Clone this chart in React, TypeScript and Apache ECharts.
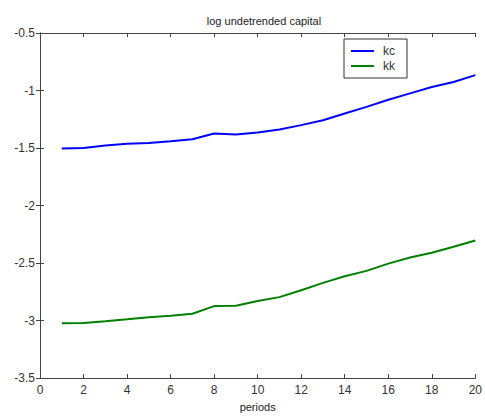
import React, { useEffect, useRef } from "react";
import * as echarts from "echarts";

const periods = [1, 2, 3, 4, 5, 6, 7, 8, 9, 10, 11, 12, 13, 14, 15, 16, 17, 18, 19, 20];
const kc = [-1.503, -1.500, -1.478, -1.463, -1.456, -1.440, -1.423, -1.373, -1.382, -1.365, -1.338, -1.301, -1.258, -1.200, -1.142, -1.080, -1.025, -0.970, -0.926, -0.866];
const kk = [-3.024, -3.022, -3.006, -2.989, -2.970, -2.957, -2.940, -2.874, -2.871, -2.829, -2.796, -2.736, -2.672, -2.615, -2.568, -2.505, -2.451, -2.410, -2.358, -2.304];
const xTicks = { min: 0, max: 20, interval: 2 };
const yTicks = { min: -3.5, max: -0.5, interval: 0.5 };

const FONT = "'Liberation Sans', Arial, sans-serif";
const AX = "#444";

export default function App() {
  const ref = useRef<HTMLDivElement>(null);
  useEffect(() => {
    const chart = echarts.init(ref.current!, null, { renderer: "svg" });
    const axisCommon = {
      axisLine: { show: true, lineStyle: { color: AX, width: 1 } },
      axisTick: { show: true, inside: true, length: 4, lineStyle: { color: AX } },
      splitLine: { show: false },
    };
    chart.setOption({
      animation: false,
      backgroundColor: "#fff",
      textStyle: { fontFamily: FONT },
      title: {
        text: "log undetrended capital",
        left: 259,
        textAlign: "center",
        top: 10,
        textStyle: { fontFamily: FONT, fontSize: 11, fontWeight: "normal", color: "#222" },
      },
      grid: { left: 40, right: 6, top: 33, bottom: 37, containLabel: false },
      legend: {
        left: 344,
        top: 39,
        orient: "vertical",
        backgroundColor: "#fff",
        borderColor: "#333",
        borderWidth: 1,
        borderRadius: 0,
        padding: [5, 12, 5, 7],
        itemGap: 1,
        itemWidth: 23,
        itemHeight: 2,
        icon: "rect",
        textStyle: { fontFamily: FONT, fontSize: 12, color: "#333", lineHeight: 14, padding: [0, 0, 0, 4] },
        data: ["kc", "kk"],
      },
      xAxis: [
        {
          type: "value",
          ...xTicks,
          position: "bottom",
          ...axisCommon,
          axisLabel: { show: true, margin: 6, fontFamily: FONT, fontSize: 12, color: "#333" },
          name: "periods",
          nameLocation: "middle",
          nameGap: 21,
          nameTextStyle: { fontFamily: FONT, fontSize: 11, color: "#222" },
        },
        {
          type: "value",
          ...xTicks,
          position: "top",
          ...axisCommon,
          axisLabel: { show: false },
        },
      ],
      yAxis: [
        {
          type: "value",
          ...yTicks,
          position: "left",
          ...axisCommon,
          axisLabel: { show: true, margin: 5, fontFamily: FONT, fontSize: 12, color: "#333" },
        },
        {
          type: "value",
          ...yTicks,
          position: "right",
          ...axisCommon,
          axisLabel: { show: false },
        },
      ],
      series: [
        {
          name: "kc",
          type: "line",
          data: periods.map((p, i) => [p, kc[i]]),
          symbol: "none",
          lineStyle: { color: "#0000ff", width: 2 },
          itemStyle: { color: "#0000ff" },
        },
        {
          name: "kk",
          type: "line",
          data: periods.map((p, i) => [p, kk[i]]),
          symbol: "none",
          lineStyle: { color: "#008000", width: 2 },
          itemStyle: { color: "#008000" },
        },
      ],
    });
    return () => chart.dispose();
  }, []);
  return <div ref={ref} style={{ width: 485, height: 417, position: "absolute", left: 0, top: 0 }} />;
}
